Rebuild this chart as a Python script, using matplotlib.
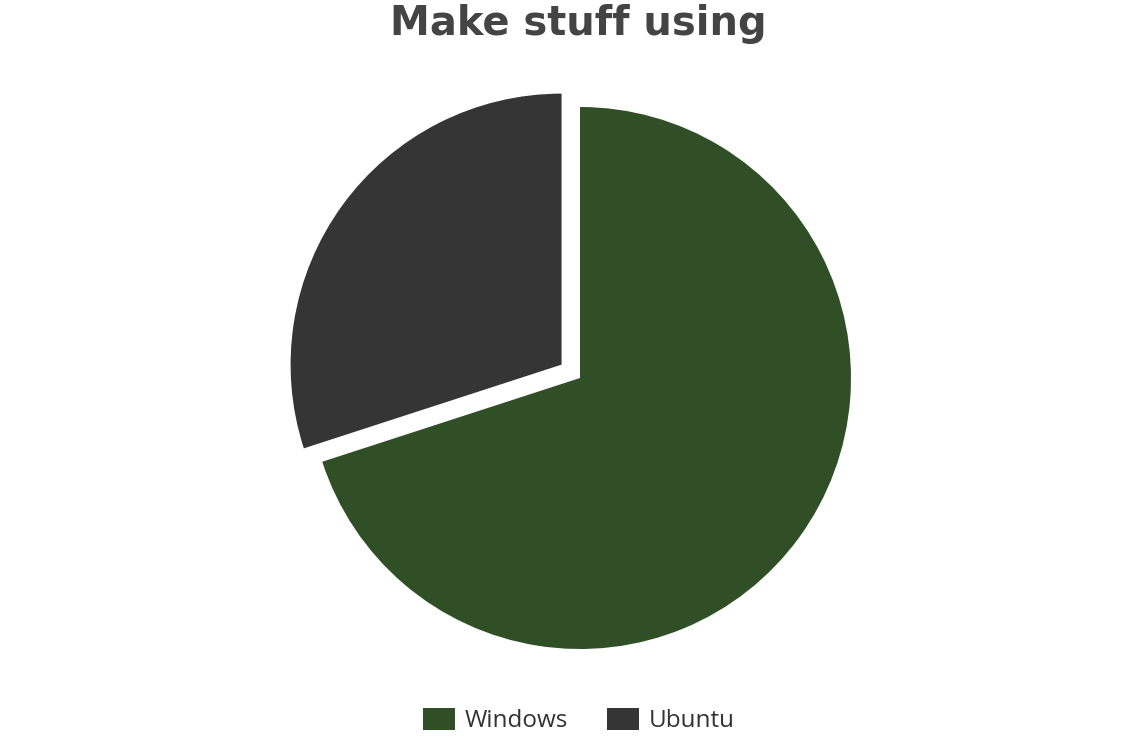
import matplotlib
matplotlib.use("Agg")
import matplotlib.pyplot as plt
from matplotlib.patches import Patch

labels = ["Windows", "Ubuntu"]
values = [70, 30]
colors = ["#304f26", "#353535"]
explode = [0, 0.084]
title = "Make stuff using"

W, H = 1134, 756
fig = plt.figure(figsize=(W / 100, H / 100), dpi=100)
R = 271
cx, cy = 580, 378
half = 1.2 * R
ax = fig.add_axes([(cx - half) / W, (H - cy - half) / H, 2 * half / W, 2 * half / H])
ax.pie(values, colors=colors, explode=explode, startangle=90, counterclock=False,
       radius=1, wedgeprops=dict(linewidth=0))
ax.set_xlim(-1.2, 1.2)
ax.set_ylim(-1.2, 1.2)
ax.set_aspect("equal")
ax.axis("off")

fig.text(578 / W, 1 - 24 / H, title, ha="center", va="center", fontsize=28.8,
         fontweight="bold", color="#444444", family="DejaVu Sans")

handles = [Patch(facecolor=c, edgecolor="none") for c in colors]
fig.legend(handles, labels, loc="center", bbox_to_anchor=(579 / W, 1 - 720.5 / H),
           ncol=2, frameon=False, prop=dict(family="Open Sans", size=17.5),
           labelcolor="#333333", handlelength=1.32, handleheight=1.05,
           handletextpad=0.4, columnspacing=1.6)

fig.savefig("out.png", dpi=100)
